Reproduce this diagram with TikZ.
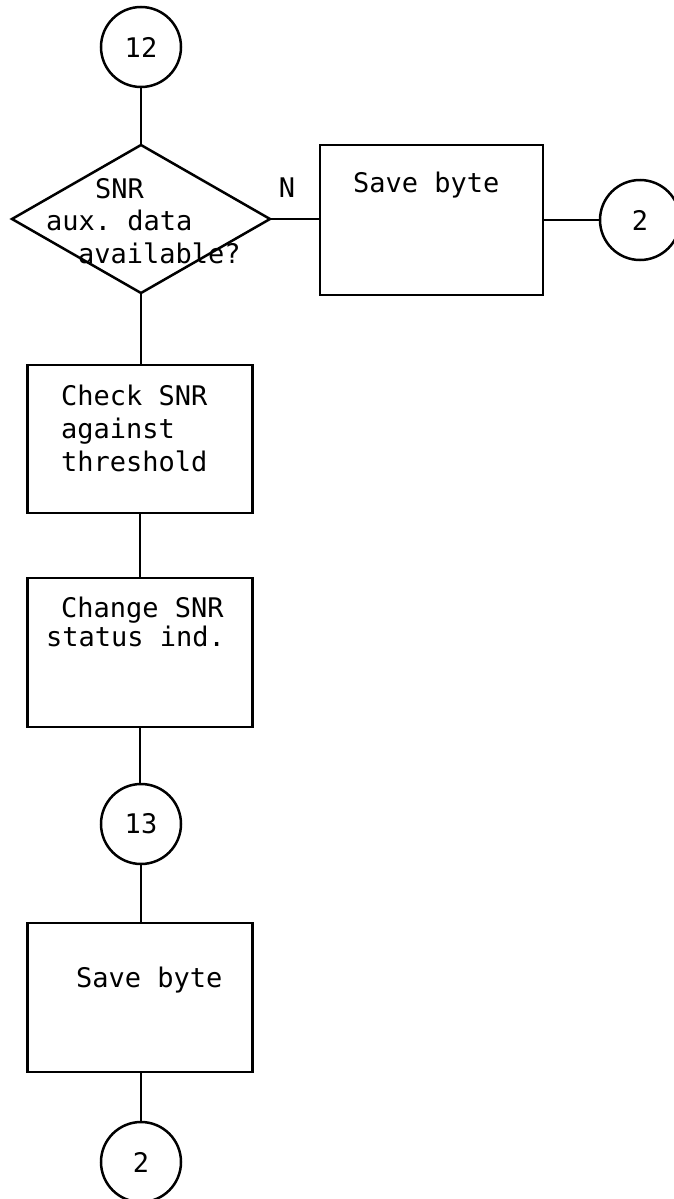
\documentclass[tikz,border=0pt]{standalone}
\usepackage{fontspec}
\setmonofont{DejaVu Sans Mono}
\usetikzlibrary{shapes.geometric}
\tikzset{
  x=1pt,y=-1pt,
  every node/.style={font=\ttfamily\fontsize{27}{33}\selectfont},
  line/.style={line width=2.5pt},
  proc/.style={draw,line width=2.5pt,rectangle,inner sep=0pt,outer sep=0pt},
  conn/.style={draw,line width=2.5pt,circle,minimum size=80pt,inner sep=0pt,outer sep=0pt},
  dec/.style={draw,line width=2.5pt,diamond,minimum width=258pt,minimum height=148pt,inner sep=0pt,outer sep=0pt},
  txt/.style={anchor=base west,inner sep=0pt},
}
\begin{document}
\begin{tikzpicture}
\useasboundingbox (0,0) rectangle (673,1199);
% nodes
\node[conn] (c12) at (141,47) {12};
\node[dec] (dia) at (141,219) {};
\node[proc,minimum width=223pt,minimum height=150pt] (save1) at (431.5,220) {};
\node[conn] (c2r) at (640,220) {2};
\node[proc,minimum width=225pt,minimum height=148pt] (check) at (140,439) {};
\node[proc,minimum width=225pt,minimum height=149pt] (change) at (140,652.5) {};
\node[conn] (c13) at (141,824) {13};
\node[proc,minimum width=225pt,minimum height=149pt] (save2) at (140,997.5) {};
\node[conn] (c2b) at (141,1162) {2};
% texts
\node[txt] (t1) at (95,198) {SNR};
\node[txt] (t2) at (46,230) {aux. data};
\node[txt] (t3) at (78,263) {available?};
\node[anchor=base,inner sep=0pt] (tn) at (287,197) {N};
\node[txt] (t4) at (353,192) {Save byte};
\node[txt] (t5) at (61,405) {Check SNR};
\node[txt] (t6) at (61,438) {against};
\node[txt] (t7) at (61,471) {threshold};
\node[txt] (t8) at (61,617) {Change SNR};
\node[txt] (t9) at (46,646) {status ind.};
\node[txt] (t10) at (76,987) {Save byte};
% connectors
\draw[line] (c12) -- (dia.north);
\draw[line] (dia.east) -- (save1.west |- dia.east);
\draw[line] (save1) -- (c2r);
\draw[line] (dia.south) -- (check.north -| dia.south);
\draw[line] (check) -- (change);
\draw[line] (change) -- (change.south |- c13.north);
\draw[line] (c13) -- (save2.north -| c13.south);
\draw[line] (save2.south -| c2b.north) -- (c2b);
\end{tikzpicture}
\end{document}
